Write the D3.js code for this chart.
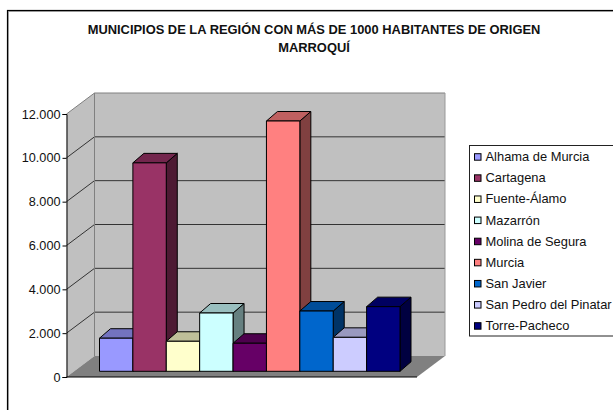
<!DOCTYPE html>
<html>
<head>
<meta charset="utf-8">
<script src="https://cdn.jsdelivr.net/npm/d3@7/dist/d3.min.js"></script>
<style>
html, body { margin: 0; padding: 0; background: #fff; overflow: hidden; }
svg { display: block; }
text { font-family: "Liberation Sans", Arial, sans-serif; fill: #111; }
</style>
</head>
<body>
<div id="chart"></div>
<script>
var titleLines = ["MUNICIPIOS DE LA REGIÓN CON MÁS DE 1000 HABITANTES DE ORIGEN", "MARROQUÍ"];
var categories = ["Alhama de Murcia", "Cartagena", "Fuente-Álamo", "Mazarrón", "Molina de Segura", "Murcia", "San Javier", "San Pedro del Pinatar", "Torre-Pacheco"];
var values = [1510, 9510, 1370, 2660, 1280, 11420, 2750, 1550, 2950];
var colors = ["#9999ff", "#993366", "#ffffcc", "#ccffff", "#660066", "#ff8080", "#0066cc", "#ccccff", "#000080"];
var yTicks = [0, 2000, 4000, 6000, 8000, 10000, 12000];

var width = 613, height = 410;

// plot geometry of the fake 3d box
var plot = {left: 66.5, right: 417, bottom: 377, top: 114, depthX: 28, depthY: 21};
// bars sit a little inside the floor and have their own depth
var bar = {left: 99.5, right: 400, lift: 5.7, depthX: 11, depthY: 9.5};

var svg = d3.select("#chart").append("svg")
    .attr("width", width)
    .attr("height", height);

// outer frame, runs off the right and bottom of the picture
svg.append("rect")
    .attr("x", 8.5).attr("y", 11.5)
    .attr("width", 620).attr("height", 420)
    .attr("fill", "none")
    .attr("stroke", "#aaa");
svg.append("rect")
    .attr("x", 7.5).attr("y", 10.5)
    .attr("width", 620).attr("height", 420)
    .attr("fill", "none")
    .attr("stroke", "#000")
    .attr("stroke-width", 1.2);

// title
svg.selectAll(".title")
    .data(titleLines)
    .enter().append("text")
    .attr("class", "title")
    .attr("x", 314)
    .attr("y", function(d, i) { return 34 + i * 17.5; })
    .attr("text-anchor", "middle")
    .attr("font-size", "12.9px")
    .attr("font-weight", "bold")
    .text(function(d) { return d; });

var x = d3.scaleBand()
    .domain(categories)
    .range([bar.left, bar.right]);
var y = d3.scaleLinear()
    .domain([0, 12000])
    .range([plot.bottom, plot.top]);

function pts(a) {
    return a.map(function(p) { return p.join(","); }).join(" ");
}

function shade(c, k) {
    var r = d3.rgb(c);
    return d3.rgb(r.r * k, r.g * k, r.b * k);
}

var dx = plot.depthX, dy = plot.depthY;

// side wall
svg.append("polygon")
    .attr("points", pts([[plot.left, y(0)], [plot.left + dx, y(0) - dy], [plot.left + dx, y(12000) - dy], [plot.left, y(12000)]]))
    .attr("fill", "#c0c0c0");
// back wall
svg.append("rect")
    .attr("x", plot.left + dx).attr("y", y(12000) - dy)
    .attr("width", plot.right - plot.left)
    .attr("height", y(0) - y(12000))
    .attr("fill", "#c0c0c0");
// floor
svg.append("polygon")
    .attr("points", pts([[plot.left, y(0)], [plot.right, y(0)], [plot.right + dx, y(0) - dy], [plot.left + dx, y(0) - dy]]))
    .attr("fill", "#808080");

// grid lines, back wall and side wall
svg.selectAll(".grid")
    .data(yTicks.slice(1))
    .enter().append("polyline")
    .attr("class", "grid")
    .attr("fill", "none")
    .attr("stroke", function(d) { return d == 12000 ? "#808080" : "#333"; })
    .attr("stroke-width", 1)
    .attr("points", function(d) {
        return pts([[plot.left, y(d)], [plot.left + dx, y(d) - dy], [plot.right + dx, y(d) - dy]]);
    });

// wall edges
svg.append("polyline")
    .attr("fill", "none")
    .attr("stroke", "#808080")
    .attr("points", pts([[plot.left + dx, y(0) - dy], [plot.left + dx, y(12000) - dy]]));
svg.append("polyline")
    .attr("fill", "none")
    .attr("stroke", "#999")
    .attr("points", pts([[plot.right + dx, y(0) - dy], [plot.right + dx, y(12000) - dy]]));

// bars, each one is front + top + side
var rows = categories.map(function(c, i) { return {name: c, value: values[i], color: colors[i]}; });
var base = y(0) - bar.lift;
var groups = svg.selectAll(".bar")
    .data(rows)
    .enter().append("g")
    .attr("class", "bar")
    .attr("stroke", "#000")
    .attr("stroke-width", 1)
    .attr("stroke-linejoin", "round");

groups.append("polygon")
    .attr("points", function(d) {
        var r = x(d.name) + x.bandwidth(), t = base - (y(0) - y(d.value));
        return pts([[r, t], [r + bar.depthX, t - bar.depthY], [r + bar.depthX, base - bar.depthY], [r, base]]);
    })
    .attr("fill", function(d) { return shade(d.color, 0.5); });
groups.append("polygon")
    .attr("points", function(d) {
        var l = x(d.name), r = l + x.bandwidth(), t = base - (y(0) - y(d.value));
        return pts([[l, t], [l + bar.depthX, t - bar.depthY], [r + bar.depthX, t - bar.depthY], [r, t]]);
    })
    .attr("fill", function(d) { return shade(d.color, 0.75); });
groups.append("rect")
    .attr("x", function(d) { return x(d.name); })
    .attr("y", function(d) { return base - (y(0) - y(d.value)); })
    .attr("width", x.bandwidth())
    .attr("height", function(d) { return y(0) - y(d.value); })
    .attr("fill", function(d) { return d.color; });

// front floor line + y axis
svg.append("line")
    .attr("x1", plot.left).attr("x2", plot.right)
    .attr("y1", y(0)).attr("y2", y(0))
    .attr("stroke", "#000").attr("stroke-width", 1.2);

var fmt = function(d) { return d3.format(",")(d).replace(/,/g, "."); };
var yAxis = d3.axisLeft(y)
    .tickValues(yTicks)
    .tickSize(4)
    .tickPadding(2)
    .tickFormat(fmt);
var axisG = svg.append("g")
    .attr("transform", "translate(" + plot.left + ",0)")
    .call(yAxis);
axisG.selectAll("text")
    .attr("font-size", "12.7px")
    .attr("font-family", '"Liberation Sans", Arial, sans-serif');
axisG.selectAll("line,path").attr("stroke", "#000");

// legend, cut by the right edge like the original
var legend = svg.append("g");
legend.append("rect")
    .attr("x", 469.5).attr("y", 145.5)
    .attr("width", 160).attr("height", 190.5)
    .attr("fill", "#fff")
    .attr("stroke", "#222");
var ly = d3.scalePoint()
    .domain(categories)
    .range([156.7, 325.7]);
var items = legend.selectAll(".item")
    .data(rows)
    .enter().append("g")
    .attr("class", "item");
items.append("rect")
    .attr("x", 474.5)
    .attr("y", function(d) { return ly(d.name) - 3; })
    .attr("width", 6.5).attr("height", 6.5)
    .attr("fill", function(d) { return d.color; })
    .attr("stroke", "#000");
items.append("text")
    .attr("x", 485.5)
    .attr("y", function(d) { return ly(d.name) + 4.5; })
    .attr("font-size", "12.9px")
    .text(function(d) { return d.name; });
</script>
</body>
</html>
